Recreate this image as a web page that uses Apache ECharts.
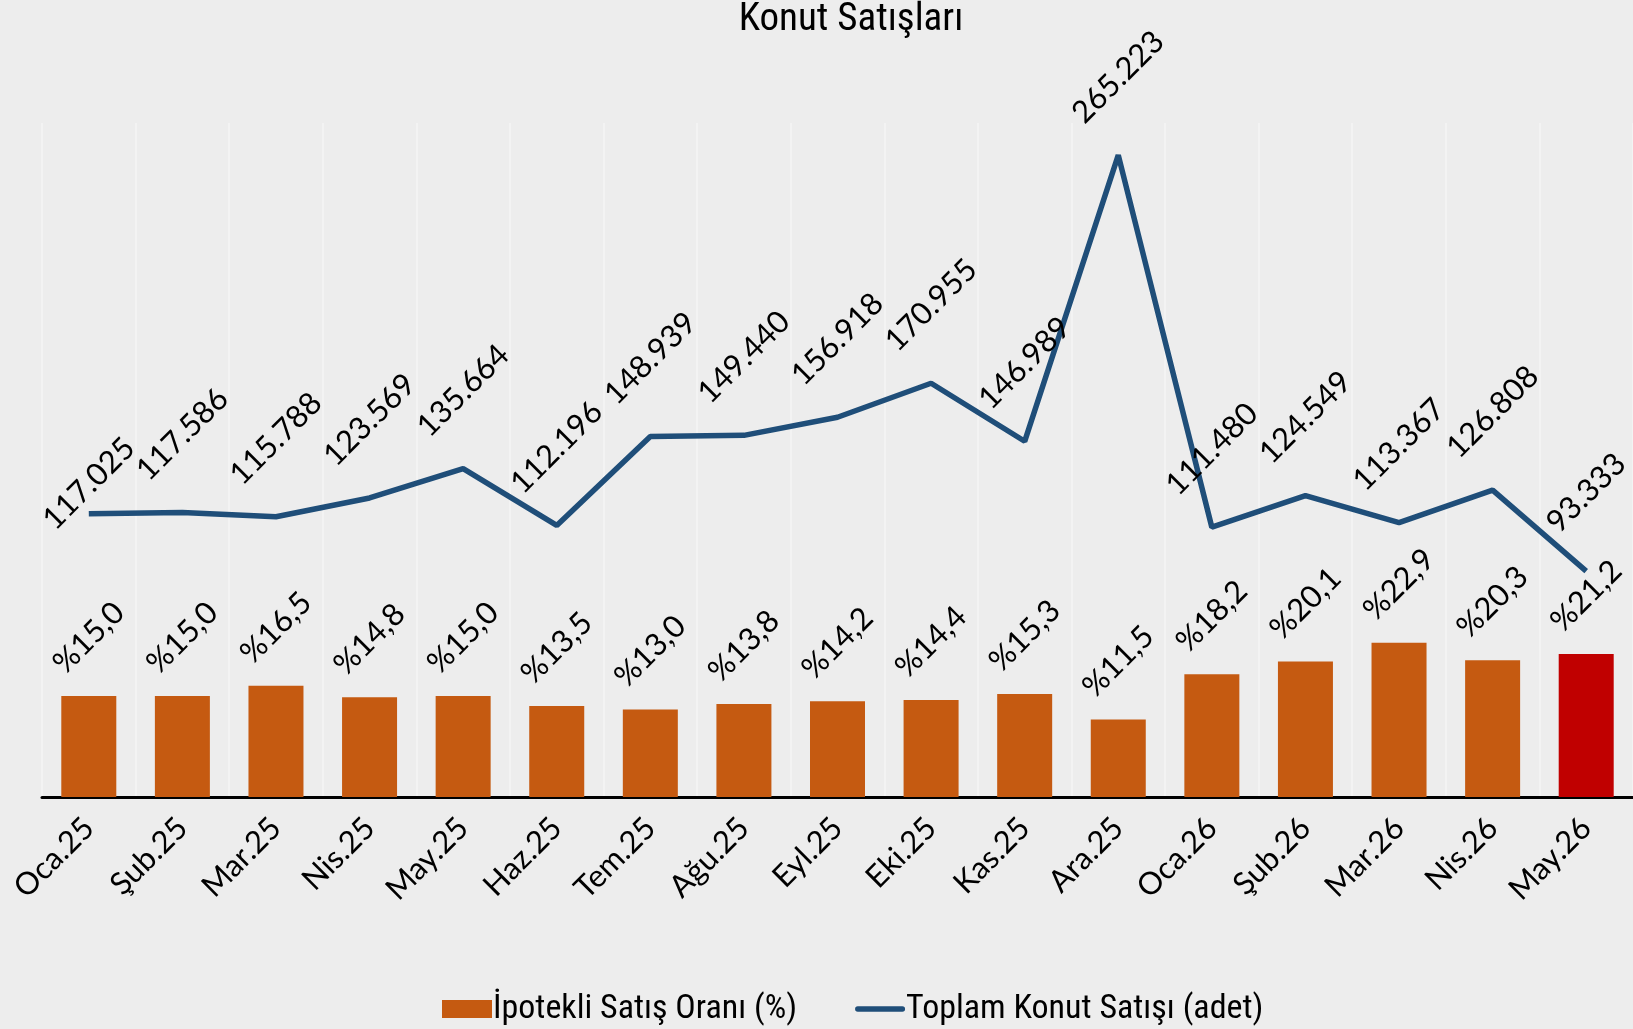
<!DOCTYPE html>
<html>
<head>
<meta charset="utf-8">
<title>Konut Satışları</title>
<script src="https://cdn.jsdelivr.net/npm/echarts@6/dist/echarts.min.js"></script>
<style>
  html, body { margin: 0; padding: 0; background: #ededed; }
  #chart { width: 1633px; height: 1029px; }
</style>
</head>
<body>
<div id="chart"></div>
<script>
var months = ['Oca.25', 'Şub.25', 'Mar.25', 'Nis.25', 'May.25', 'Haz.25', 'Tem.25', 'Ağu.25', 'Eyl.25',
    'Eki.25', 'Kas.25', 'Ara.25', 'Oca.26', 'Şub.26', 'Mar.26', 'Nis.26', 'May.26'];
var mortgageShare = [15.0, 15.0, 16.5, 14.8, 15.0, 13.5, 13.0, 13.8, 14.2, 14.4, 15.3, 11.5, 18.2, 20.1, 22.9, 20.3, 21.2];
var totalSales = [117025, 117586, 115788, 123569, 135664, 112196, 148939, 149440, 156918, 170955, 146989,
    265223, 111480, 124549, 113367, 126808, 93333];

var numFont = 'Lato, "Noto Sans", sans-serif';
var narrowFont = '"Roboto Condensed", "Liberation Sans Narrow", "DejaVu Sans Condensed", "Noto Sans", sans-serif';

function fmtThousands(v) {
    return String(v).replace(/\B(?=(\d{3})+(?!\d))/g, '.');
}

var barData = mortgageShare.map(function (v, i) {
    if (i === mortgageShare.length - 1) {
        return { value: v, itemStyle: { color: '#c00000' } };
    }
    return v;
});
var lineData = totalSales.map(function (v, i) {
    // first label sits closer to its point in the original
    if (i === 0) {
        return { value: v, label: { distance: 30 } };
    }
    return v;
});

var myChart = echarts.init(document.getElementById('chart'));
var options = {
    backgroundColor: '#ededed',
    animation: false,
    title: {
        text: 'Konut Satışları',
        left: 846,
        textAlign: 'center',
        top: -4,
        textStyle: { fontFamily: narrowFont, fontSize: 39, fontWeight: 'normal', color: '#000' }
    },
    legend: {
        left: 437,
        top: 987,
        itemWidth: 50,
        itemHeight: 18,
        itemGap: 58,
        textStyle: { fontFamily: narrowFont, fontSize: 34, color: '#000', padding: [0, 0, 0, -4] },
        data: [
            { name: 'İpotekli Satış Oranı (%)', icon: 'rect' },
            {
                name: 'Toplam Konut Satışı (adet)',
                icon: 'path://M3,0 L52,0 A3,3 0 0 1 52,6 L3,6 A3,3 0 0 1 3,0 Z',
                itemStyle: { color: '#1f4e79' }
            }
        ]
    },
    grid: { left: 42, top: 123, width: 1600, height: 674 },
    xAxis: {
        type: 'category',
        data: months,
        axisLine: { lineStyle: { color: '#000', width: 3 } },
        axisTick: { show: false },
        splitLine: { show: true, lineStyle: { color: '#f3f3f3', width: 2 } },
        axisLabel: {
            rotate: 45,
            margin: 26,
            interval: 0,
            fontFamily: numFont,
            fontSize: 31,
            color: '#000'
        }
    },
    yAxis: [
        { type: 'value', min: 0, max: 100, show: false, splitLine: { show: false } },
        { type: 'value', min: 0, max: 278500, show: false, splitLine: { show: false } }
    ],
    series: [
        {
            name: 'İpotekli Satış Oranı (%)',
            type: 'bar',
            yAxisIndex: 0,
            barWidth: 55,
            itemStyle: { color: '#c55a11' },
            label: {
                show: true,
                position: 'top',
                distance: 58,
                rotate: 45,
                align: 'center',
                verticalAlign: 'middle',
                fontFamily: numFont,
                fontSize: 31,
                color: '#000',
                formatter: function (p) {
                    return '%' + p.value.toFixed(1).replace('.', ',');
                }
            },
            data: barData
        },
        {
            name: 'Toplam Konut Satışı (adet)',
            type: 'line',
            yAxisIndex: 1,
            symbol: 'circle',
            symbolSize: 0.1,
            showSymbol: true,
            lineStyle: { color: '#1f4e79', width: 5.5 },
            itemStyle: { color: '#1f4e79' },
            label: {
                show: true,
                position: 'top',
                distance: 78,
                rotate: 45,
                align: 'center',
                verticalAlign: 'middle',
                fontFamily: numFont,
                fontSize: 31,
                color: '#000',
                formatter: function (p) {
                    return fmtThousands(p.value);
                }
            },
            labelLayout: { hideOverlap: false },
            z: 3,
            data: lineData
        }
    ]
};
myChart.setOption(options);
</script>
</body>
</html>
